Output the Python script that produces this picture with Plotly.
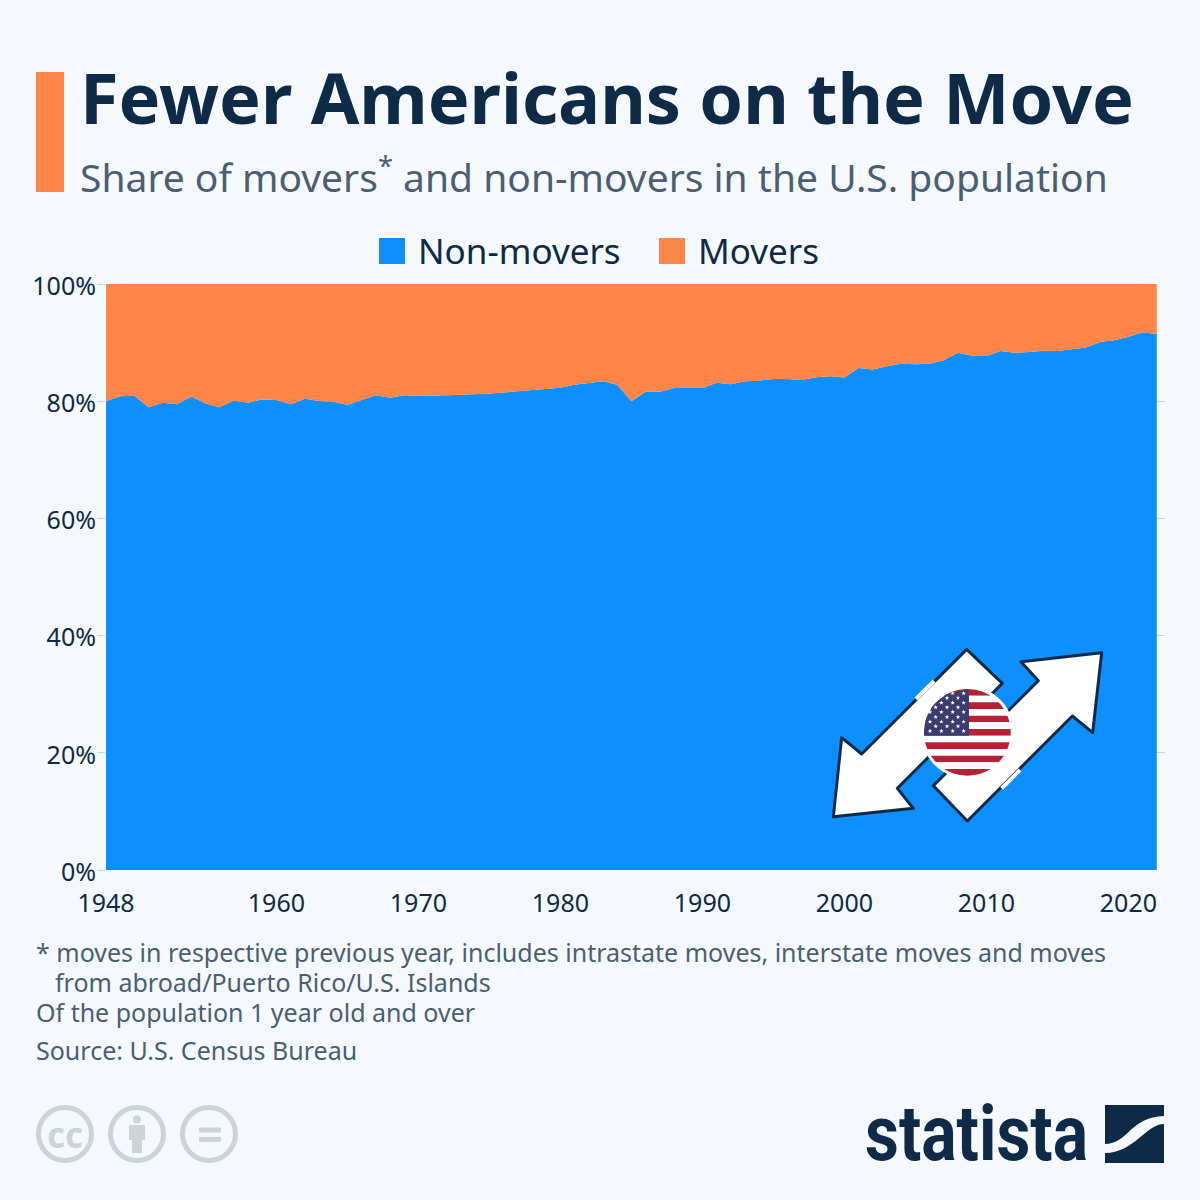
import math
import plotly.graph_objects as go

years = list(range(1948, 2023))
non_movers = [
    80.0, 80.85, 80.95, 78.95, 79.75, 79.5, 80.8, 79.65, 78.95, 80.1,
    79.75, 80.3, 80.2, 79.5, 80.4, 80.05, 79.9, 79.4, 80.2, 81.0,
    80.6, 81.0, 80.95, 80.95, 81.0, 81.1, 81.15, 81.3, 81.5, 81.7,
    81.9, 82.1, 82.3, 82.8, 83.05, 83.4, 82.8, 80.0, 81.6, 81.6,
    82.25, 82.3, 82.25, 83.15, 82.9, 83.4, 83.5, 83.8, 83.8, 83.6,
    84.1, 84.25, 84.05, 85.65, 85.4, 85.95, 86.4, 86.3, 86.4, 87.0,
    88.25, 87.75, 87.7, 88.55, 88.25, 88.4, 88.6, 88.55, 88.9, 89.15,
    90.1, 90.4, 91.0, 91.75, 91.45,
]
movers = [
    20.0, 19.15, 19.05, 21.05, 20.25, 20.5, 19.2, 20.35, 21.05, 19.9,
    20.25, 19.7, 19.8, 20.5, 19.6, 19.95, 20.1, 20.6, 19.8, 19.0,
    19.4, 19.0, 19.05, 19.05, 19.0, 18.9, 18.85, 18.7, 18.5, 18.3,
    18.1, 17.9, 17.7, 17.2, 16.95, 16.6, 17.2, 20.0, 18.4, 18.4,
    17.75, 17.7, 17.75, 16.85, 17.1, 16.6, 16.5, 16.2, 16.2, 16.4,
    15.9, 15.75, 15.95, 14.35, 14.6, 14.05, 13.6, 13.7, 13.6, 13.0,
    11.75, 12.25, 12.3, 11.45, 11.75, 11.6, 11.4, 11.45, 11.1, 10.85,
    9.9, 9.6, 9.0, 8.25, 8.55,
]
x_ticks = [1948, 1960, 1970, 1980, 1990, 2000, 2010, 2020]
y_ticks = [0, 20, 40, 60, 80, 100]
y_labels = ["0%", "20%", "40%", "60%", "80%", "100%"]

BG = "#f5f9fd"
BLUE = "#0d8fff"
ORANGE = "#ff8549"
NAVY = "#0f2a46"
SLATE = "#4b5e73"
GREY = "#ccd3da"
FONT = "Noto Sans"

# plot area in page pixels
L, R, T, B = 106, 1165, 284, 870


def px(x, y):
    return (x - L) / (R - L), (B - y) / (B - T)


def path(points, close=True):
    parts = []
    for i, (x, y) in enumerate(points):
        a, b = px(x, y)
        parts.append(("M" if i == 0 else "L") + f"{a:.5f},{b:.5f}")
    return " ".join(parts) + (" Z" if close else "")


def zoomed(points):
    return [(820 + a / 3, 640 + b / 3) for a, b in points]


def rect(x0, y0, x1, y1, color):
    a0, b0 = px(x0, y0)
    a1, b1 = px(x1, y1)
    return dict(type="rect", xref="paper", yref="paper", x0=a0, y0=b0, x1=a1, y1=b1,
                fillcolor=color, line_width=0, layer="above")


def circle(cx, cy, r, fill, line_color=None, line_width=0):
    a0, b0 = px(cx - r, cy + r)
    a1, b1 = px(cx + r, cy - r)
    return dict(type="circle", xref="paper", yref="paper", x0=a0, y0=b0, x1=a1, y1=b1,
                fillcolor=fill, line=dict(color=line_color or fill, width=line_width), layer="above")


def poly(points, fill, line_color=None, line_width=0):
    return dict(type="path", xref="paper", yref="paper", path=path(points), fillcolor=fill,
                line=dict(color=line_color or fill, width=line_width), layer="above")


def seg(points, color, width):
    return dict(type="path", xref="paper", yref="paper", path=path(points, close=False),
                line=dict(color=color, width=width), layer="above")


def band(cx, cy, r, y0, y1, x_max=None):
    # piece of the flag disc between two heights
    left, right = [], []
    steps = 8
    for i in range(steps + 1):
        y = y0 + (y1 - y0) * i / steps
        half = math.sqrt(max(r * r - (y - cy) ** 2, 0))
        left.append((cx - half, y))
        right.append((cx + half if x_max is None else min(cx + half, x_max), y))
    return left + right[::-1]


def star(cx, cy, r):
    pts = []
    for i in range(10):
        rad = r if i % 2 == 0 else r * 0.4
        ang = -math.pi / 2 + i * math.pi / 5
        pts.append((cx + rad * math.cos(ang), cy + rad * math.sin(ang)))
    return path(pts)


fig = go.Figure()
fig.add_trace(go.Scatter(x=years, y=non_movers, name="Non-movers", mode="lines", stackgroup="one",
                         fillcolor=BLUE, line=dict(color=BLUE, width=0)))
fig.add_trace(go.Scatter(x=years, y=movers, name="Movers", mode="lines", stackgroup="one",
                         fillcolor=ORANGE, line=dict(color=ORANGE, width=0)))

shapes = [rect(36, 72, 64, 192, ORANGE), rect(379, 238, 405, 264, BLUE), rect(659, 238, 685, 264, ORANGE)]

# arrows and flag
arrow_a = [(40, 530), (65, 293), (125, 342), (440, 28), (547, 130), (232, 445), (280, 505)]
arrow_b = [(845, 38), (603, 65), (655, 122), (340, 437), (442, 543), (757, 228), (818, 278)]
shapes.append(poly(zoomed(arrow_a), "white", NAVY, 3))
shapes.append(poly(zoomed(arrow_b), "white", NAVY, 3))
shapes.append(seg(zoomed([(342, 123), (288, 177)]), "white", 4))
shapes.append(seg(zoomed([(600, 390), (545, 445)]), "white", 4))

fx, fy = zoomed([(442, 277)])[0]
fr = 130 / 3
shapes.append(circle(fx, fy, fr + 3, "white"))
stripe = 2 * fr / 13
for i in range(13):
    y0 = fy - fr + i * stripe
    shapes.append(poly(band(fx, fy, fr, y0, y0 + stripe), "#b22234" if i % 2 == 0 else "white"))
shapes.append(poly(band(fx, fy, fr, fy - fr, fy - fr + 7 * stripe, x_max=fx + 1.6), "#3c3b6e"))

star_rows = [
    (160, [398, 431]), (174, [381, 414]), (188, [364, 398, 431]), (202, [347, 381, 414]),
    (216, [330, 364, 398, 431]), (231, [347, 381, 414]), (245, [330, 364, 398, 431]),
    (259, [347, 381, 414]), (273, [330, 364, 398, 431]),
]
star_path = " ".join(star(*zoomed([(sx, sy)])[0], 2.4) for sy, row in star_rows for sx in row)
shapes.append(dict(type="path", xref="paper", yref="paper", path=star_path, fillcolor="white",
                   line_width=0, layer="above"))

# licence icons
for cx in (65, 137, 209):
    shapes.append(circle(cx, 1134, 26.5, "rgba(0,0,0,0)", GREY, 5))
shapes.append(circle(137, 1119.5, 4, GREY))
shapes.append(rect(129, 1125, 145, 1140, GREY))
shapes.append(rect(132, 1140, 142, 1153, GREY))
shapes.append(rect(199, 1127.5, 221, 1132.5, GREY))
shapes.append(rect(199, 1137, 221, 1142, GREY))

# statista mark
shapes.append(rect(1105, 1105, 1164, 1163, NAVY))
a = [px(1105, 1144), px(1128, 1144), px(1130, 1117), px(1164, 1116), px(1164, 1124),
     px(1146, 1124), px(1134, 1153), px(1105, 1153)]
shapes.append(dict(
    type="path", xref="paper", yref="paper", fillcolor=BG, line_width=0, layer="above",
    path=(f"M{a[0][0]:.5f},{a[0][1]:.5f} C{a[1][0]:.5f},{a[1][1]:.5f} {a[2][0]:.5f},{a[2][1]:.5f} {a[3][0]:.5f},{a[3][1]:.5f} "
          f"L{a[4][0]:.5f},{a[4][1]:.5f} C{a[5][0]:.5f},{a[5][1]:.5f} {a[6][0]:.5f},{a[6][1]:.5f} {a[7][0]:.5f},{a[7][1]:.5f} Z"),
))


def label(x, y, text, size, color=SLATE, weight=None, family=FONT, anchor="left"):
    a, b = px(x, y)
    return dict(xref="paper", yref="paper", x=a, y=b, text=text, showarrow=False, xanchor=anchor,
                yanchor="middle", align="left", font=dict(family=family, size=size, color=color, weight=weight))


annotations = [
    label(78, 175, "Share of movers<sup>*</sup> and non-movers in the U.S. population", 39),
    label(416, 250, "Non-movers", 35, NAVY),
    label(696, 250, "Movers", 35, NAVY),
    label(34, 952, "* moves in respective previous year, includes intrastate moves, interstate moves and moves", 25),
    label(53, 982, "from abroad/Puerto Rico/U.S. Islands", 25),
    label(34, 1012, "Of the population 1 year old and over", 25),
    label(34, 1050, "Source: U.S. Census Bureau", 25),
    label(65, 1134, "<b>cc</b>", 35, GREY, anchor="center"),
    label(996.5, 1133, "statista", 78, NAVY, weight=700, family="Roboto", anchor="center"),
]

fig.update_layout(
    width=1200,
    height=1200,
    autosize=False,
    margin=dict(l=L, r=1200 - R, t=T, b=1200 - B),
    paper_bgcolor=BG,
    plot_bgcolor=BG,
    showlegend=False,
    title=dict(text="<b>Fewer Americans on the Move</b>", x=80 / 1200, xref="container", xanchor="left",
               y=1 - 99 / 1200, yref="container", yanchor="middle",
               font=dict(family=FONT, size=70.2, color=NAVY)),
    xaxis=dict(range=[1948, 2022.58], tickvals=x_ticks, showgrid=False, zeroline=False, showline=False,
               ticks="", ticklabelstandoff=16, tickfont=dict(family=FONT, size=25, color=NAVY)),
    yaxis=dict(range=[0, 100], tickvals=y_ticks, ticktext=y_labels, showgrid=True, gridcolor=GREY,
               gridwidth=1, zeroline=False, showline=False, ticks="outside", ticklen=8, tickcolor=GREY,
               ticklabelstandoff=-4, ticklabelshift=2, tickfont=dict(family=FONT, size=25, color=NAVY)),
    shapes=shapes,
    annotations=annotations,
)

# page margin off, rounded outlines on the arrows, narrow wordmark
post = """
document.body.style.margin = '0';
document.body.style.background = '#f5f9fd';
document.querySelectorAll('.shapelayer path').forEach(function (p) { p.style.strokeLinejoin = 'round'; });
document.querySelectorAll('.annotation-text').forEach(function (t) {
  if (t.textContent === 'statista') {
    t.setAttribute('textLength', '223');
    t.setAttribute('lengthAdjust', 'spacingAndGlyphs');
  }
});
"""
fig.write_html("out.html", post_script=post, config={"displayModeBar": False})
